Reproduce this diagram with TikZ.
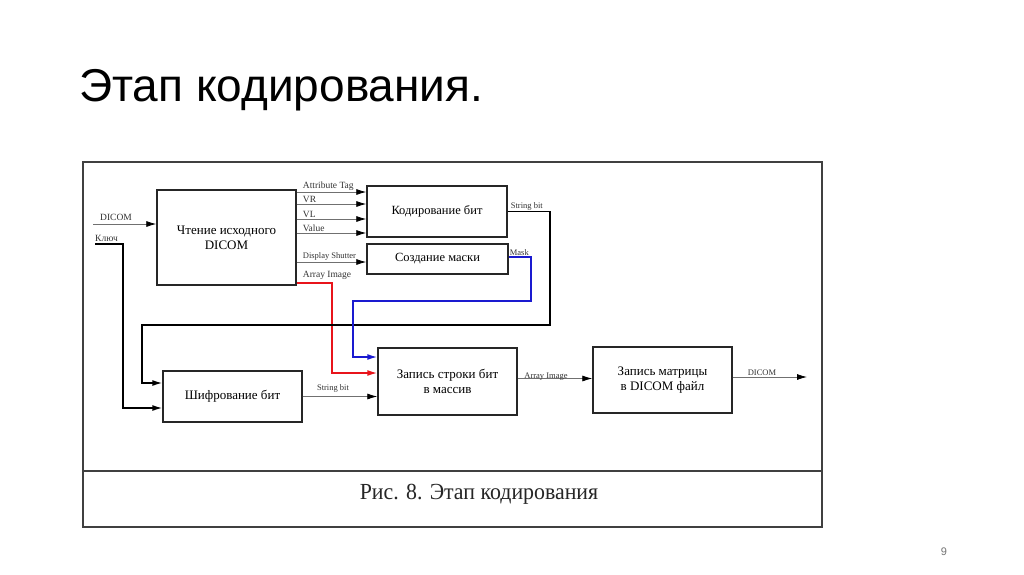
\documentclass[tikz,border=0pt]{standalone}
\usepackage{fontspec}
\setmainfont{Liberation Serif}
\newfontfamily\titlefont{Liberation Sans}
\usetikzlibrary{arrows.meta}
\definecolor{frm}{HTML}{404040}
\definecolor{thin}{HTML}{707070}
\definecolor{redc}{HTML}{E8141B}
\definecolor{bluec}{HTML}{1A1AD0}
\tikzset{
  blk/.style={draw=black!85, line width=1.4pt, inner sep=0pt, align=center, font=\fontsize{13}{15}\selectfont},
  thinln/.style={draw=thin, line width=0.8pt, -{Latex[length=10pt,width=6pt,color=black]}},
  thickln/.style={draw=black, line width=1.4pt, -{Latex[length=10pt,width=6pt]}},
  redln/.style={draw=redc, line width=1.5pt, -{Latex[length=10pt,width=6pt]}},
  blueln/.style={draw=bluec, line width=1.5pt, -{Latex[length=10pt,width=6pt]}},
  lbl/.style={font=\fontsize{9.5}{10}\selectfont, inner sep=1pt, text=black!80},
}
\begin{document}
\begin{tikzpicture}[x=1pt,y=-1pt]
\useasboundingbox (0,0) rectangle (1024,574);
\fill[white] (0,0) rectangle (1024,574);
% title
\node[anchor=base west, inner sep=0pt, font=\titlefont\fontsize{46}{52}\selectfont] (title) at (79,101) {Этап кодирования.};
\node[anchor=base, inner sep=0pt, font=\titlefont\fontsize{11}{12}\selectfont, text=black!55] (pnum) at (944,555) {9};
% frame
\draw[frm, line width=1.3pt] (83,162) rectangle (822,527);
\draw[frm, line width=1.3pt] (83,471) -- (822,471);
\node[inner sep=0pt, font=\fontsize{23}{26}\selectfont, text=black!85] (cap) at (479,494) {\scalebox{0.95}[1]{Рис. 8. Этап кодирования}};
% boxes
\node[blk, minimum width=139pt, minimum height=95pt] (read) at (226.5,237.5) {Чтение исходного\\DICOM};
\node[blk, font=\fontsize{12.5}{14}\selectfont, minimum width=140pt, minimum height=51pt] (enc) at (437,211.5) {Кодирование бит};
\node[blk, font=\fontsize{12.5}{14}\selectfont, minimum width=141pt, minimum height=30pt] (mask) at (437.5,259) {Создание маски};
\node[blk, minimum width=139pt, minimum height=67pt] (write) at (447.5,381.5) {Запись строки бит\\в массив};
\node[blk, minimum width=139pt, minimum height=51pt] (cipher) at (232.5,396.5) {Шифрование бит};
\node[blk, minimum width=139pt, minimum height=66pt] (matrix) at (662.5,380) {Запись матрицы\\в DICOM файл};
% inputs
\coordinate (dicomin) at (93,224);
\draw[thinln] (dicomin) -- (dicomin -| read.west);
\node[lbl, anchor=south west] (l1) at (99,222) {DICOM};
\coordinate (keyin) at (95,244);
\node[lbl, anchor=south west] (l2) at (94,243) {Ключ};
\draw[thickln] (keyin) -- (123,244) -- (123,408) -- (123,408 -| cipher.west);
% read -> enc
\draw[thinln] ([yshift=45.5pt]read.east) coordinate (a1) -- (a1 -| enc.west);
\node[lbl, anchor=south west, xshift=5pt] (la1) at (a1) {Attribute Tag};
\draw[thinln] ([yshift=33.5pt]read.east) coordinate (a2) -- (a2 -| enc.west);
\node[lbl, anchor=south west, xshift=5pt] (la2) at (a2) {VR};
\draw[thinln] ([yshift=18.5pt]read.east) coordinate (a3) -- (a3 -| enc.west);
\node[lbl, anchor=south west, xshift=5pt] (la3) at (a3) {VL};
\draw[thinln] ([yshift=4.5pt]read.east) coordinate (a4) -- (a4 -| enc.west);
\node[lbl, anchor=south west, xshift=5pt] (la4) at (a4) {Value};
\draw[thinln] ([yshift=-24.5pt]read.east) coordinate (a5) -- (a5 -| mask.west);
\node[lbl, anchor=south west, xshift=5pt, font=\fontsize{8.5}{9}\selectfont] (la5) at (a5) {Display Shutter};
\coordinate (a6) at ([yshift=-45.5pt]read.east);
\node[lbl, anchor=south west, xshift=5pt, yshift=2pt] (la6) at (a6) {Array Image};
\draw[redln] (a6) -- (332,283) -- (332,373) -- (332,373 -| write.west);
% enc -> cipher loop
\draw[thickln] (enc.east) -- (550,211.5) -- (550,325) -- (142,325) -- (142,383) -- (142,383 -| cipher.west);
\node[lbl, anchor=south west, xshift=2pt, font=\fontsize{8.5}{9}\selectfont] (lsb) at (enc.east) {String bit};
% mask -> write
\draw[blueln] ([yshift=2pt]mask.east) coordinate (m1) -- (m1 -| 531,0) -- (531,301) -- (353,301) -- (353,357) -- (353,357 -| write.west);
\node[lbl, anchor=south west, font=\fontsize{8.5}{9}\selectfont] (lmask) at (m1) {Mask};
% cipher -> write
\draw[thinln] (cipher.east) -- (cipher.east -| write.west);
\node[lbl, anchor=south, font=\fontsize{8.5}{9}\selectfont] (lsb2) at (333,394) {String bit};
% write -> matrix
\draw[thinln] ([yshift=3pt]write.east) coordinate (w1) -- (w1 -| matrix.west);
\node[lbl, anchor=south, font=\fontsize{8.5}{9}\selectfont] (lai) at (546,382) {Array Image};
% matrix -> out
\coordinate (out) at (807,377);
\draw[thinln] (matrix.east |- out) -- (out);
\node[lbl, anchor=south, font=\fontsize{8.5}{9}\selectfont] (lout) at (762,377) {DICOM};
\end{tikzpicture}
\end{document}
